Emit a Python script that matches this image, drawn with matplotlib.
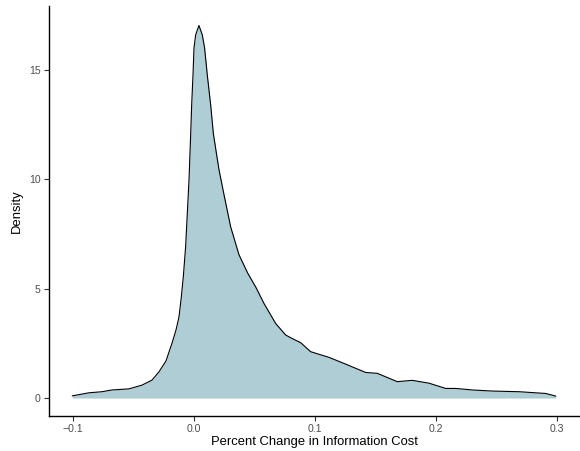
import matplotlib
matplotlib.use("Agg")
import matplotlib.pyplot as plt

plt.rcParams["font.family"] = ["Liberation Sans", "DejaVu Sans"]

# Estimated kernel density of percent change in information cost
pct_change = [-0.1006, -0.0868, -0.076, -0.0678, -0.0537, -0.043, -0.0347, -0.0289,
              -0.0231, -0.0182, -0.0149, -0.0124, -0.0105, -0.0088, -0.0069, -0.0055,
              -0.0041, -0.0027, -0.0019, -0.0008, 0.0, 0.0014, 0.0041, 0.0069, 0.0088,
              0.011, 0.0138, 0.016, 0.0185, 0.0207, 0.0248, 0.0303, 0.0372, 0.0445,
              0.051, 0.0579, 0.0675, 0.0758, 0.0812, 0.0882, 0.0964, 0.1116, 0.1254,
              0.1419, 0.1515, 0.168, 0.1804, 0.1942, 0.208, 0.2163, 0.23, 0.2465,
              0.2686, 0.2824, 0.2907, 0.299]
density = [0.10, 0.24, 0.29, 0.37, 0.42, 0.59, 0.82, 1.2, 1.7, 2.5, 3.1, 3.7, 4.6,
           5.55, 6.92, 8.45, 9.97, 12.1, 13.4, 14.77, 15.99, 16.6, 17.03, 16.6, 15.99,
           14.77, 13.4, 12.1, 11.2, 10.43, 9.3, 7.83, 6.55, 5.7, 5.08, 4.32, 3.41,
           2.88, 2.72, 2.53, 2.12, 1.86, 1.55, 1.17, 1.13, 0.75, 0.81, 0.68, 0.44,
           0.44, 0.37, 0.32, 0.29, 0.24, 0.21, 0.09]

x_ticks = [-0.1, 0.0, 0.1, 0.2, 0.3]
x_tick_labels = ["\u22120.1", "0.0", "0.1", "0.2", "0.3"]
y_ticks = [0, 5, 10, 15]

W, H = 580, 451
fig = plt.figure(figsize=(W / 100, H / 100), dpi=100)
ax = fig.add_axes([49 / W, 1 - 416 / H, (580 - 49) / W, (416 - 6) / H])

ax.fill_between(pct_change, density, 0, color="#AECDD4", linewidth=0)
ax.plot(pct_change, density, color="black", linewidth=0.8,
        solid_joinstyle="round", solid_capstyle="round")

ax.set_xlim(-0.1198, 0.319)
ax.set_ylim(-0.82, 17.92)
ax.set_xticks(x_ticks)
ax.set_xticklabels(x_tick_labels)
ax.set_yticks(y_ticks)

for side in ("top", "right"):
    ax.spines[side].set_visible(False)
for side in ("left", "bottom"):
    ax.spines[side].set_linewidth(1.0)
    ax.spines[side].set_color("black")

ax.tick_params(axis="both", length=3.5, width=0.8, color="#333333",
               labelsize=7.6, labelcolor="#4D4D4D", pad=2.5)

ax.set_xlabel("Percent Change in Information Cost", fontsize=9.4, color="black", labelpad=1.5)
ax.set_ylabel("Density", fontsize=9.4, color="black", labelpad=4)

fig.savefig("out.png", dpi=100)
